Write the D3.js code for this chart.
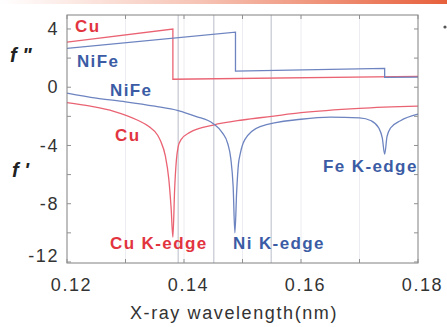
<!DOCTYPE html>
<html><head><meta charset="utf-8">
<script src="https://cdn.jsdelivr.net/npm/d3@7"></script>
<style>body{margin:0;background:#fff}svg{display:block}</style>
</head><body>
<svg id="c" width="447" height="327"></svg>
<script>
// ---- data (wavelength in nm, anomalous scattering factors) ----
const xTicks = [0.12, 0.14, 0.16, 0.18];
const yTicks = [4, 0, -4, -8, -12];
const gridX = [0.13, 0.14, 0.15, 0.16, 0.17];
const markerX = [0.1390, 0.1451, 0.1549];
// f'' (imaginary part)
const cuF2 = [[0.12, 3.1], [0.1381, 4.0], [0.1381, 0.55], [0.18, 0.74]];
const nifeF2 = [[0.12, 2.67], [0.1488, 3.78], [0.1488, 1.1], [0.1743, 1.3], [0.1743, 0.68], [0.18, 0.7]];
// f' (real part)
const cuF1 = [[0.12, -1.05], [0.124, -1.3], [0.128, -1.65], [0.132, -2.25], [0.134, -2.7], [0.1355, -3.3],
  [0.136, -3.7], [0.1368, -4.7], [0.1374, -6.3], [0.1378, -8.3], [0.1381, -10.3], [0.1384, -7.0],
  [0.1387, -5.0], [0.139, -4.1], [0.1395, -3.6], [0.141, -3.1], [0.145, -2.6], [0.150, -2.25],
  [0.155, -2.0], [0.160, -1.75], [0.170, -1.45], [0.180, -1.3]];
const nifeF1 = [[0.12, -0.4], [0.125, -0.75], [0.130, -1.0], [0.135, -1.3], [0.139, -1.6], [0.142, -2.0],
  [0.145, -2.5], [0.1465, -3.1], [0.1475, -3.9], [0.148, -4.9], [0.1484, -6.8], [0.1487, -10.0],
  [0.1490, -7.2], [0.1493, -5.3], [0.1496, -4.6], [0.1504, -3.6], [0.153, -2.7], [0.160, -2.2],
  [0.165, -2.05], [0.170, -2.1], [0.172, -2.3], [0.1733, -2.8], [0.1739, -3.5], [0.1743, -4.6],
  [0.1747, -3.4], [0.1753, -2.8], [0.177, -2.3], [0.180, -1.85]];
const labels = [
  {t: "Cu", x: 0.12137, y: 3.79, c: "red"},
  {t: "NiFe", x: 0.1217, y: 1.39, c: "blue"},
  {t: "NiFe", x: 0.12735, y: -0.6, c: "blue"},
  {t: "Cu", x: 0.1282, y: -3.69, c: "red"},
  {t: "Fe K-edge", x: 0.16376, y: -5.82, c: "blue"},
  {t: "Cu K-edge", x: 0.12735, y: -11.1, c: "red"},
  {t: "Ni K-edge", x: 0.14838, y: -11.1, c: "blue"}
];

const W = 447, H = 327;
const m = {l: 67, r: 29, t: 15, b: 64};
const svg = d3.select("#c");
const x = d3.scaleLinear().domain([0.12, 0.18]).range([m.l, W - m.r]);
const y = d3.scaleLinear().domain([-12.07, 4.96]).range([H - m.b, m.t]);
const FONT = "Liberation Sans, Arial, sans-serif";

const lineRed = "#ea6373", lineBlue = "#6d84c0";
const txtRed = "#e2343f", txtBlue = "#3b5ca5";

// header gradient bar
const defs = svg.append("defs");
const g0 = defs.append("linearGradient").attr("id", "hdr");
g0.append("stop").attr("offset", "0%").attr("stop-color", "#fff");
g0.append("stop").attr("offset", "45%").attr("stop-color", "#f6c3b4");
g0.append("stop").attr("offset", "100%").attr("stop-color", "#e7603c");
svg.append("rect").attr("x", 0).attr("y", 0).attr("width", W).attr("height", 4).attr("fill", "url(#hdr)");
svg.append("circle").attr("cx", 445).attr("cy", 27).attr("r", 1.6).attr("fill", "#555");

// grid
svg.selectAll(".gx").data(gridX).join("line")
  .attr("x1", d => x(d)).attr("x2", d => x(d)).attr("y1", m.t).attr("y2", H - m.b)
  .attr("stroke", "#ececf2").attr("stroke-width", 1);
svg.selectAll(".mx").data(markerX).join("line")
  .attr("x1", d => x(d)).attr("x2", d => x(d)).attr("y1", m.t).attr("y2", H - m.b)
  .attr("stroke", "#b8bcc8").attr("stroke-width", 1);

// curves
const lin = d3.line().x(d => x(d[0])).y(d => y(d[1]));
const smooth = d3.line().x(d => x(d[0])).y(d => y(d[1])).curve(d3.curveMonotoneX);
const plot = svg.append("g");
plot.append("path").attr("d", lin(cuF2)).attr("fill", "none").attr("stroke", lineRed).attr("stroke-width", 1.3);
plot.append("path").attr("d", lin(nifeF2)).attr("fill", "none").attr("stroke", lineBlue).attr("stroke-width", 1.3);
plot.append("path").attr("d", smooth(cuF1)).attr("fill", "none").attr("stroke", lineRed).attr("stroke-width", 1.3);
plot.append("path").attr("d", smooth(nifeF1)).attr("fill", "none").attr("stroke", lineBlue).attr("stroke-width", 1.3);

// frame and axes
svg.append("rect").attr("x", m.l).attr("y", m.t).attr("width", W - m.r - m.l).attr("height", H - m.b - m.t)
  .attr("fill", "none").attr("stroke", "#808080").attr("stroke-width", 1);
const xMinor = d3.range(0.12, 0.1801, 0.01);
const yMinor = d3.range(-12, 4.01, 2);
const tk = svg.append("g").attr("stroke", "#909090").attr("stroke-width", 1);
xMinor.forEach(v => {
  tk.append("line").attr("x1", x(v)).attr("x2", x(v)).attr("y1", H - m.b).attr("y2", H - m.b - 4);
  tk.append("line").attr("x1", x(v)).attr("x2", x(v)).attr("y1", m.t).attr("y2", m.t + 4);
});
yMinor.forEach(v => {
  tk.append("line").attr("x1", m.l).attr("x2", m.l + 4).attr("y1", y(v)).attr("y2", y(v));
  tk.append("line").attr("x1", W - m.r).attr("x2", W - m.r - 4).attr("y1", y(v)).attr("y2", y(v));
});

const xAxis = d3.axisBottom(x).tickValues(xTicks).tickSize(0).tickPadding(15).tickFormat(d3.format(".2f"));
const gx = svg.append("g").attr("transform", `translate(0,${H - m.b})`).call(xAxis);
gx.select(".domain").remove();
gx.selectAll("text").attr("font-family", FONT).attr("font-size", 18).attr("letter-spacing", 1.6)
  .attr("fill", "#333").attr("dx", 4);
const yAxis = d3.axisLeft(y).tickValues(yTicks).tickSize(0).tickPadding(8).tickFormat(d => String(d));
const gy = svg.append("g").attr("transform", `translate(${m.l},0)`).call(yAxis);
gy.select(".domain").remove();
gy.selectAll("text").attr("font-family", FONT).attr("font-size", 18).attr("letter-spacing", 1.6)
  .attr("fill", "#333").attr("dy", d => d === -12 ? "-0.05em" : "0.32em");

svg.append("text").attr("x", 234).attr("y", 319).attr("text-anchor", "middle")
  .attr("font-family", FONT).attr("font-size", 18).attr("letter-spacing", 1.6).attr("fill", "#333")
  .text("X-ray wavelength(nm)");

svg.append("text").attr("x", 10).attr("y", 62).attr("font-family", FONT)
  .attr("font-size", 20).attr("font-weight", "bold").attr("font-style", "italic").attr("fill", "#222").text("f \"");
svg.append("text").attr("x", 12).attr("y", 177).attr("font-family", FONT)
  .attr("font-size", 20).attr("font-weight", "bold").attr("font-style", "italic").attr("fill", "#222").text("f '");

svg.selectAll(".lbl").data(labels).join("text")
  .attr("x", d => x(d.x)).attr("y", d => y(d.y))
  .attr("font-family", FONT).attr("font-size", 17).attr("font-weight", "bold").attr("letter-spacing", 1.4)
  .attr("fill", d => d.c === "red" ? txtRed : txtBlue).text(d => d.t);
</script>
</body></html>
